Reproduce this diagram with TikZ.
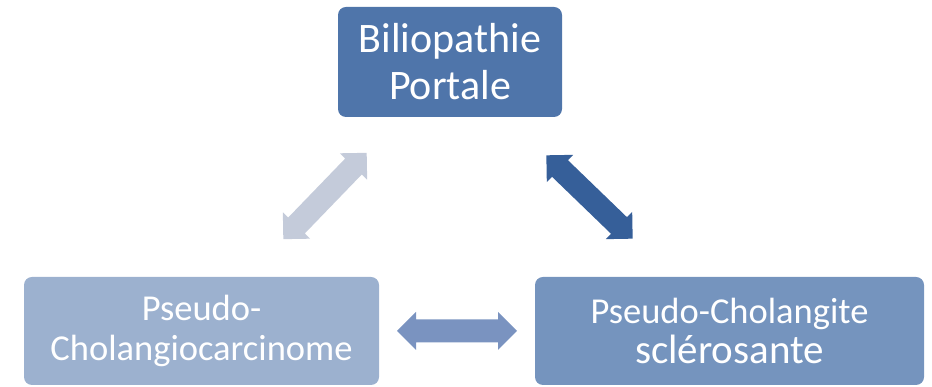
\documentclass[tikz,border=0pt]{standalone}
\usepackage{fontspec}
\setmainfont{Carlito}
\definecolor{topblue}{HTML}{4F75AA}
\definecolor{leftblue}{HTML}{9CB1CF}
\definecolor{rightblue}{HTML}{7594BE}
\definecolor{arrowlight}{HTML}{C4CBDA}
\definecolor{arrowdark}{HTML}{365F99}
\definecolor{arrowmid}{HTML}{7A93C0}
\tikzset{
  boxstyle/.style={draw=none, rounded corners=8pt, text=white, align=center, inner sep=0pt},
  pics/dblarrow/.style={code={
    \fill[#1] (-60,0) -- (-41,19) -- (-41,11.5) -- (41,11.5) -- (41,19) -- (60,0)
      -- (41,-19) -- (41,-11.5) -- (-41,-11.5) -- (-41,-19) -- cycle;
  }}
}
\begin{document}
\begin{tikzpicture}[x=1pt,y=1pt]
\useasboundingbox (0,0) rectangle (932,387);
\node[boxstyle, fill=topblue, minimum width=224pt, minimum height=110pt,
  font={\fontsize{42}{47}\selectfont}] (top) at (450,325)
  {Biliopathie\\ Portale};
\node[boxstyle, fill=leftblue, minimum width=355pt, minimum height=108pt,
  font={\fontsize{36.5}{40}\selectfont}] (left) at (201.5,56)
  {Pseudo-\\ Cholangiocarcinome};
\node[boxstyle, fill=rightblue, minimum width=389pt, minimum height=108pt,
  font={\fontsize{36.5}{40}\selectfont}] (right) at (729.5,56)
  {Pseudo-Cholangite\\ \fontsize{41}{40}\selectfont sclérosante};
\coordinate (aL) at (325,191);
\coordinate (aR) at (589.5,190);
\coordinate (aB) at (457,56);
\pic[rotate=46] at (aL) {dblarrow=arrowlight};
\pic[rotate=-44] at (aR) {dblarrow=arrowdark};
\pic at (aB) {dblarrow=arrowmid};
\end{tikzpicture}
\end{document}
